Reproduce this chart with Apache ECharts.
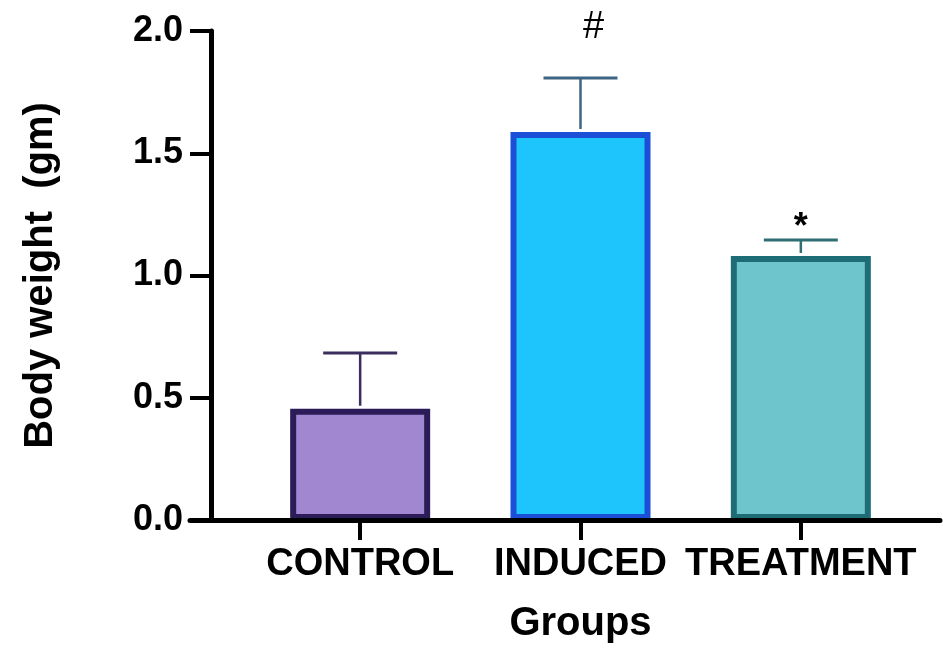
<!DOCTYPE html>
<html>
<head>
<meta charset="utf-8">
<script src="https://cdn.jsdelivr.net/npm/echarts@6/dist/echarts.min.js"></script>
<style>
html,body{margin:0;padding:0;background:#fff;}
#chart{width:943px;height:651px;}
</style>
</head>
<body>
<div id="chart"></div>
<script>
// ---- data ----
const categories = ['CONTROL', 'INDUCED', 'TREATMENT'];
const meanValues = [0.455, 1.587, 1.08];
const upperErrorValues = [0.683, 1.808, 1.145];
const annotations = ['', '#', '*'];
const yTicks = [0.0, 0.5, 1.0, 1.5, 2.0];

// ---- styles ----
const fillColors = ['#a087d0', '#1ec4fc', '#6ec6cc'];
const borderColors = ['#2b1b58', '#1b4fd8', '#1e6d76'];
const errorColors = ['#3b2e5e', '#3e6483', '#2f6e72'];
const annotationShift = [[0, 0], [13, -31], [0, 6]];
const annotationFonts = ['', 'normal 38px', 'bold 36px'];
const FONT = '"Liberation Sans", Arial, sans-serif';

const chart = echarts.init(document.getElementById('chart'));

const errorData = categories.map((c, i) => [i, meanValues[i], upperErrorValues[i]]);

const option = {
  backgroundColor: '#ffffff',
  animation: false,
  grid: [
    { left: 250, right: 32, top: 31, bottom: 131 },
    { left: 190, right: 3, top: 31, bottom: 131 }
  ],
  xAxis: [
    {
      type: 'category',
      gridIndex: 0,
      data: categories,
      z: 10,
      axisLine: { show: true, lineStyle: { color: '#000', width: 5 } },
      axisTick: { show: true, alignWithLabel: true, length: 20, lineStyle: { color: '#000', width: 4 } },
      axisLabel: { color: '#000', fontFamily: FONT, fontWeight: 'bold', fontSize: 38, margin: 26, interval: 0 },
      name: 'Groups',
      nameLocation: 'middle',
      nameGap: 84,
      nameTextStyle: { color: '#000', fontFamily: FONT, fontWeight: 'bold', fontSize: 40 }
    },
    {
      type: 'value',
      gridIndex: 1,
      min: 0,
      max: 1,
      z: 10,
      axisLine: { show: true, lineStyle: { color: '#000', width: 5 } },
      axisTick: { show: false },
      axisLabel: { show: false },
      splitLine: { show: false }
    }
  ],
  yAxis: [
    {
      type: 'value',
      gridIndex: 0,
      min: 0,
      max: 2,
      interval: 0.5,
      offset: 39,
      z: 10,
      axisLine: { show: true, lineStyle: { color: '#000', width: 5 } },
      axisTick: { show: true, length: 21, lineStyle: { color: '#000', width: 4 } },
      splitLine: { show: false },
      axisLabel: {
        color: '#000', fontFamily: FONT, fontWeight: 'bold', fontSize: 36, margin: 28,
        formatter: v => {
          const t = yTicks.find(x => Math.abs(x - v) < 1e-9);
          return t === undefined ? '' : t.toFixed(1);
        }
      },
      name: 'Body weight  (gm)',
      nameLocation: 'middle',
      nameGap: 150,
      nameRotate: 90,
      nameTextStyle: { color: '#000', fontFamily: FONT, fontWeight: 'bold', fontSize: 40 }
    },
    { type: 'value', gridIndex: 1, show: false, min: 0, max: 1 }
  ],
  series: [
    {
      type: 'bar',
      xAxisIndex: 0,
      yAxisIndex: 0,
      barWidth: 140,
      z: 2,
      data: meanValues.map((v, i) => ({
        value: v,
        itemStyle: { color: fillColors[i], borderColor: borderColors[i], borderWidth: 6 }
      }))
    },
    {
      type: 'custom',
      xAxisIndex: 0,
      yAxisIndex: 0,
      z: 3,
      data: errorData,
      renderItem: function (params, api) {
        const i = api.value(0);
        const base = api.coord([i, api.value(1)]);
        const top = api.coord([i, api.value(2)]);
        const half = 37;
        const color = errorColors[i];
        const children = [
          { type: 'line', shape: { x1: base[0], y1: base[1] - 3, x2: top[0], y2: top[1] },
            style: { stroke: color, lineWidth: 2.5 } },
          { type: 'line', shape: { x1: top[0] - half, y1: top[1], x2: top[0] + half, y2: top[1] },
            style: { stroke: color, lineWidth: 3 } }
        ];
        if (annotations[i]) {
          children.push({
            type: 'text',
            x: top[0] + annotationShift[i][0],
            y: top[1] + annotationShift[i][1],
            style: {
              text: annotations[i],
              fill: '#000',
              font: annotationFonts[i] + ' ' + FONT,
              textAlign: 'center',
              textVerticalAlign: 'bottom'
            }
          });
        }
        return { type: 'group', children: children };
      }
    }
  ]
};

chart.setOption(option);
</script>
</body>
</html>
